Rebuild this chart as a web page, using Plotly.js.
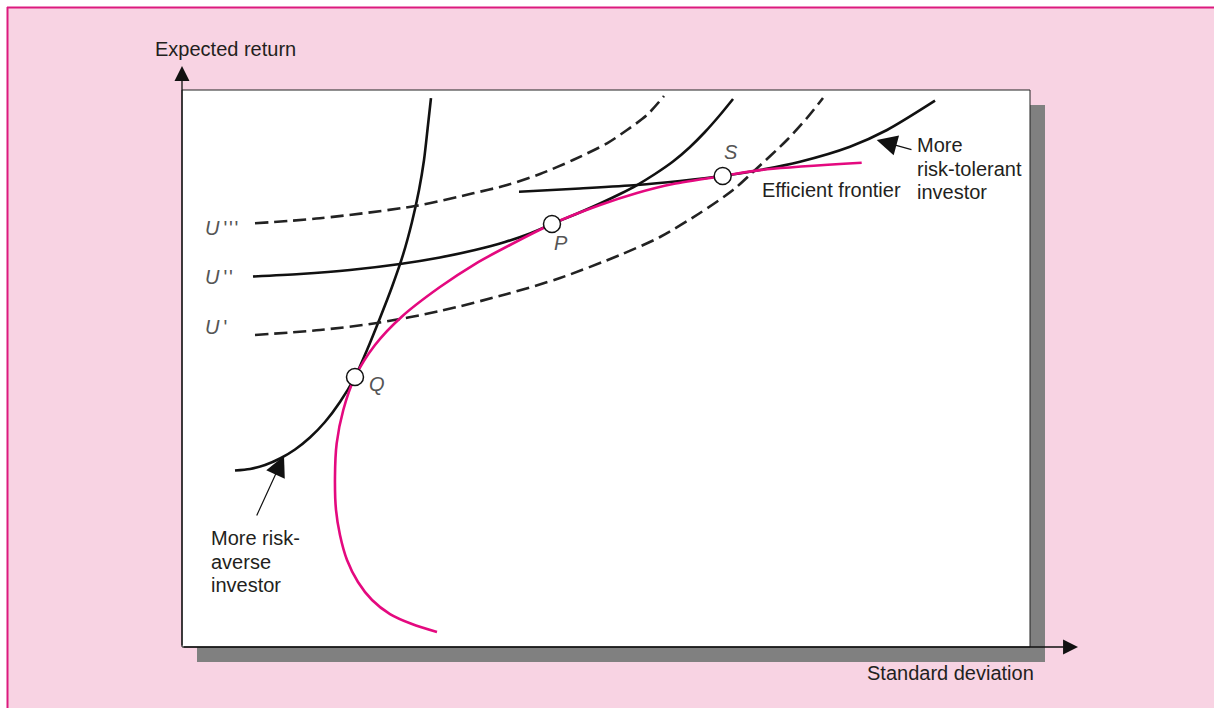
<!DOCTYPE html>
<html>
<head>
<meta charset="utf-8">
<script src="https://cdn.plot.ly/plotly-3.0.1.min.js"></script>
<style>
  html, body { margin: 0; padding: 0; background: #ffffff; }
  #chart { width: 1214px; height: 708px; }
</style>
</head>
<body>
<div id="chart"></div>
<script>
// ---- Data (std dev, expected return) in arbitrary 0-100 units ----
const aversX = [6.25, 8.02, 9.79, 11.56, 13.33, 15.09, 16.86, 18.63, 20.40, 21.82, 23.35, 24.76, 26.06, 27.12, 27.95, 28.54, 29.01, 29.36];
const aversY = [31.69, 31.96, 32.68, 33.84, 35.46, 37.61, 40.39, 43.99, 48.47, 53.32, 59.07, 64.63, 70.38, 76.30, 82.05, 87.43, 93.72, 98.56];

const u2X = [8.37, 13.92, 19.81, 25.71, 30.42, 34.55, 38.09, 41.04, 43.63, 46.34, 49.29, 51.65, 53.66, 55.78, 57.90, 59.91, 61.67, 63.44, 64.98];
const u2Y = [66.52, 66.97, 67.68, 68.76, 69.93, 71.27, 72.71, 74.24, 75.94, 77.65, 79.62, 81.33, 82.94, 84.92, 87.16, 89.77, 92.46, 95.51, 98.38];

const u3X = [8.61, 16.27, 27.48, 34.32, 38.33, 42.22, 46.11, 50.12, 52.48, 54.83, 56.84];
const u3Y = [76.07, 76.97, 79.17, 81.45, 82.94, 84.92, 87.43, 90.43, 92.82, 95.51, 98.92];

const u1X = [8.61, 16.27, 23.00, 30.42, 38.33, 44.58, 51.65, 56.37, 61.08, 64.98, 67.33, 71.34, 73.70, 75.59];
const u1Y = [56.01, 56.91, 58.17, 60.32, 63.38, 66.25, 70.38, 73.61, 77.92, 82.05, 85.28, 91.02, 94.97, 98.56];

const tolerX = [39.74, 46.93, 53.66, 58.73, 63.76, 68.16, 72.88, 78.77, 83.14, 88.80];
const tolerY = [81.74, 82.32, 82.94, 83.66, 84.56, 85.64, 87.13, 89.82, 92.82, 98.08];

const frontX = [30.07, 27.12, 24.53, 22.41, 20.75, 19.46, 18.63, 18.16, 18.04, 18.24, 19.02, 20.40, 22.76, 25.91, 30.42, 34.55, 38.68, 43.63, 49.29, 53.66, 57.90, 63.76, 68.99, 80.15];
const frontY = [2.69, 4.13, 5.92, 8.44, 11.67, 15.62, 20.11, 24.60, 30.57, 36.57, 42.55, 48.47, 54.22, 59.30, 64.63, 68.76, 72.17, 75.94, 79.35, 81.51, 83.12, 84.56, 85.76, 86.95];

const pointNames = ["Q", "P", "S"];
const pointX = [20.40, 43.63, 63.76];
const pointY = [48.47, 75.94, 84.56];
const pointLabelX = [23.05, 44.75, 64.74];
const pointLabelY = [47.22, 72.53, 88.87];

const uNames = ["U'''", "U''", "U'"];
const uLabelX = [2.48, 2.48, 2.48];
const uLabelY = [75.22, 66.43, 57.45];

const tolerText = ["More", "risk-tolerant", "investor"];
const tolerTextX = 86.44;
const tolerTextY = [90.13, 85.82, 81.69];
const aversText = ["More risk-", "averse", "investor"];
const aversTextX = 3.18;
const aversTextY = [19.57, 15.26, 11.13];

// ---- Layout geometry (pixels) ----
const L = 182, T = 90, R = 1030, B = 647, W = R - L, H = B - T;
const px = x => (x - L) / W;
const py = y => (B - y) / H;

const BLACK = '#111111';
const MAGENTA = '#e4097f';
const PINK = '#f8d3e3';
const TXT = '#231f20';
const FONT = 'Liberation Sans, Arial, Helvetica, sans-serif';
const LW = 2.6;

const traces = [
  {x: aversX, y: aversY, mode: 'lines', line: {color: BLACK, width: LW, shape: 'spline', smoothing: 0.8}},
  {x: u2X, y: u2Y, mode: 'lines', line: {color: BLACK, width: LW, shape: 'spline', smoothing: 0.8}},
  {x: u3X, y: u3Y, mode: 'lines', line: {color: '#222', width: LW, shape: 'spline', smoothing: 0.8, dash: '13px,6px'}},
  {x: u1X, y: u1Y, mode: 'lines', line: {color: '#222', width: LW, shape: 'spline', smoothing: 0.8, dash: '13px,6px'}},
  {x: tolerX, y: tolerY, mode: 'lines', line: {color: BLACK, width: LW, shape: 'spline', smoothing: 0.8}},
  {x: frontX, y: frontY, mode: 'lines', line: {color: MAGENTA, width: LW, shape: 'spline', smoothing: 0.8}},
  {x: pointX, y: pointY, mode: 'markers', text: pointNames,
   marker: {symbol: 'circle', size: 17, color: '#ffffff', line: {color: BLACK, width: 1.5}}}
];

const annotations = [];
function txt(x, y, text, opts) {
  annotations.push(Object.assign({
    x: x, y: y, xref: 'x', yref: 'y', text: text, showarrow: false,
    xanchor: 'left', yanchor: 'middle',
    font: {family: FONT, size: 20, color: TXT}
  }, opts || {}));
}
// point labels
pointNames.forEach((n, i) => txt(pointLabelX[i], pointLabelY[i], '<i>' + n + '</i>',
  {xanchor: 'center', font: {family: FONT, size: 20, color: '#555555'}}));
// utility labels
uNames.forEach((n, i) => txt(uLabelX[i], uLabelY[i], '<i>U</i>\u2009' + n.slice(1).split('').join('\u200A'),
  {font: {family: FONT, size: 20, color: '#555555'}}));
txt(68.16, 82.05, 'Efficient frontier');
tolerText.forEach((t, i) => txt(tolerTextX, tolerTextY[i], t));
aversText.forEach((t, i) => txt(aversTextX, aversTextY[i], t));

// pointer arrows
annotations.push({x: 81.92, y: 91.02, ax: 86.20, ay: 89.23, axref: 'x', ayref: 'y', xref: 'x', yref: 'y',
  text: '', showarrow: true, arrowhead: 2, arrowsize: 3.4, arrowwidth: 1.2, arrowcolor: BLACK});
annotations.push({x: 12.03, y: 34.29, ax: 8.73, ay: 23.34, axref: 'x', ayref: 'y', xref: 'x', yref: 'y',
  text: '', showarrow: true, arrowhead: 2, arrowsize: 3.4, arrowwidth: 1.2, arrowcolor: BLACK});

// axis arrows
annotations.push({x: 0, y: py(66), xref: 'paper', yref: 'paper', ax: 0, ay: B - 66, axref: 'pixel', ayref: 'pixel',
  text: '', showarrow: true, arrowhead: 2, arrowsize: 2.3, arrowwidth: 1.3, arrowcolor: BLACK});
annotations.push({x: px(1078), y: 0, xref: 'paper', yref: 'paper', ax: -(1078 - L), ay: 0, axref: 'pixel', ayref: 'pixel',
  text: '', showarrow: true, arrowhead: 2, arrowsize: 2.3, arrowwidth: 1.3, arrowcolor: BLACK});

// axis titles
annotations.push({x: px(225), y: py(49), xref: 'paper', yref: 'paper', text: 'Expected return', showarrow: false,
  xanchor: 'center', yanchor: 'middle', font: {family: FONT, size: 20, color: TXT}});
annotations.push({x: px(950), y: py(673), xref: 'paper', yref: 'paper', text: 'Standard deviation', showarrow: false,
  xanchor: 'center', yanchor: 'middle', font: {family: FONT, size: 20, color: TXT}});

const shapes = [
  // white outside strip (top & left) and magenta frame line
  {type: 'rect', xref: 'paper', yref: 'paper', x0: px(0), x1: px(1214), y0: py(7), y1: py(0), fillcolor: '#ffffff', line: {width: 0}, layer: 'below'},
  {type: 'rect', xref: 'paper', yref: 'paper', x0: px(0), x1: px(7), y0: py(708), y1: py(0), fillcolor: '#ffffff', line: {width: 0}, layer: 'below'},
  {type: 'line', xref: 'paper', yref: 'paper', x0: px(7), x1: px(1214), y0: py(7.5), y1: py(7.5), line: {color: '#dc1a7e', width: 2}, layer: 'below'},
  {type: 'line', xref: 'paper', yref: 'paper', x0: px(7.5), x1: px(7.5), y0: py(7), y1: py(708), line: {color: '#dc1a7e', width: 2}, layer: 'below'},
  // drop shadow
  {type: 'rect', xref: 'paper', yref: 'paper', x0: px(197), x1: px(1045), y0: py(662), y1: py(105), fillcolor: '#808080', line: {width: 0}, layer: 'below'},
  // white plot box
  {type: 'rect', xref: 'paper', yref: 'paper', x0: 0, x1: 1, y0: 0, y1: 1, fillcolor: '#ffffff', line: {color: '#222222', width: 1}, layer: 'below'}
];

const layout = {
  width: 1214, height: 708,
  margin: {l: L, r: 1214 - R, t: T, b: 708 - B, pad: 0},
  paper_bgcolor: PINK,
  plot_bgcolor: 'rgba(0,0,0,0)',
  showlegend: false,
  hovermode: false,
  xaxis: {range: [0, 100], visible: false, fixedrange: true},
  yaxis: {range: [0, 100], visible: false, fixedrange: true},
  shapes: shapes,
  annotations: annotations
};

Plotly.newPlot('chart', traces, layout, {displayModeBar: false, staticPlot: true});
</script>
</body>
</html>
